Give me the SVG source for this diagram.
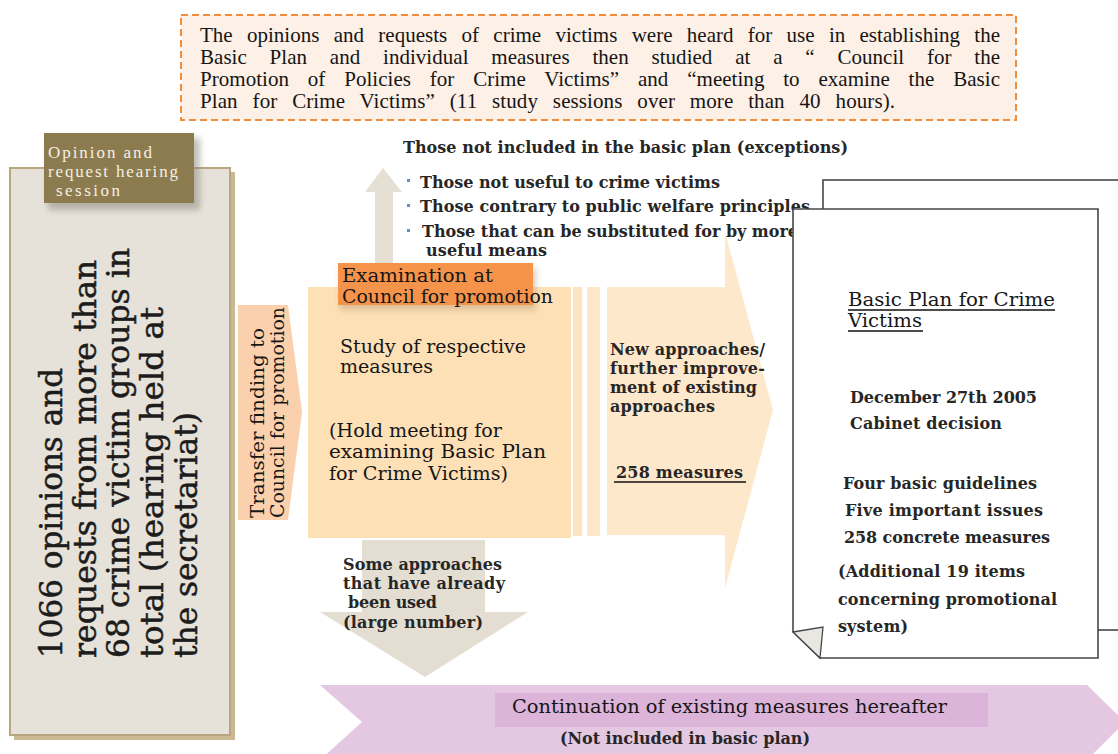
<svg xmlns="http://www.w3.org/2000/svg" width="1118" height="754" viewBox="0 0 1118 754">
  <defs>
    <style>
      .note{font-family:"Liberation Serif","Times New Roman",serif;font-size:21px;fill:#151515}
      .serif{font-family:"DejaVu Serif","Liberation Serif",serif;font-size:19px;fill:#161616}
      .bold{font-family:"DejaVu Serif","Liberation Serif",serif;font-weight:bold;font-size:16px;fill:#262626}
      .tab{font-family:"Liberation Serif","Times New Roman",serif;font-size:17px;fill:#f4f0e4}
      .big{font-family:"DejaVu Serif","Liberation Serif",serif;font-size:31px;fill:#1c1c1c;stroke:#1c1c1c;stroke-width:0.5}
      .page{fill:#ffffff;stroke:#474747;stroke-width:1.6}
      .rule{stroke:#111;stroke-width:1.3}
    </style>
    <filter id="blur" x="-20%" y="-30%" width="140%" height="160%">
      <feGaussianBlur stdDeviation="3"/>
    </filter>
  </defs>

  <!-- explanatory note -->
  <g id="note">
    <rect x="181" y="15" width="835" height="105" fill="#fdf0e6" stroke="#f08c3a" stroke-width="2" stroke-dasharray="7,4"/>
    <text class="note" x="200" y="42" word-spacing="9" textLength="800">The opinions and requests of crime victims were heard for use in establishing the</text>
    <text class="note" x="200" y="64" word-spacing="17.5" textLength="800">Basic Plan and individual measures then studied at a “ Council for the</text>
    <text class="note" x="200" y="86" word-spacing="13.5" textLength="800">Promotion of Policies for Crime Victims” and “meeting to examine the Basic</text>
    <text class="note" x="200" y="108" word-spacing="9.5" textLength="695">Plan for Crime Victims” (11 study sessions over more than 40 hours).</text>
  </g>

  <!-- hearing session panel -->
  <g id="hearing">
    <rect x="14" y="172" width="221" height="568" fill="#cbb993"/>
    <rect x="10" y="168" width="220" height="567" fill="#e7e2d9" stroke="#b8a67f" stroke-width="2"/>
    <g transform="rotate(-90)">
      <text class="big" x="-658" y="62" textLength="290" lengthAdjust="spacingAndGlyphs">1066 opinions and</text>
      <text class="big" x="-658" y="96" textLength="398" lengthAdjust="spacingAndGlyphs">requests from more than</text>
      <text class="big" x="-658" y="129" textLength="410" lengthAdjust="spacingAndGlyphs">68 crime victim groups in</text>
      <text class="big" x="-658" y="163" textLength="351" lengthAdjust="spacingAndGlyphs">total (hearing held at</text>
      <text class="big" x="-658" y="197" textLength="246" lengthAdjust="spacingAndGlyphs">the secretariat)</text>
    </g>
  </g>
  <g id="hearing-tab">
    <rect x="48" y="138" width="152" height="72" fill="#8f8a80" opacity="0.55" filter="url(#blur)"/>
    <rect x="44" y="133" width="150" height="70" fill="#8c7b4f"/>
    <text class="tab" x="48" y="158" textLength="104">Opinion and</text>
    <text class="tab" x="48" y="177" textLength="130">request hearing</text>
    <text class="tab" x="56" y="196" textLength="64">session</text>
  </g>

  <!-- transfer arrow -->
  <g id="transfer">
    <polygon points="238,305 288,305 302,412 288,520 238,520" fill="#fad0ad"/>
    <g transform="rotate(-90)">
      <text class="serif" x="-518" y="264" font-size="18" textLength="190" lengthAdjust="spacingAndGlyphs">Transfer finding to</text>
      <text class="serif" x="-518" y="284" font-size="18" textLength="211" lengthAdjust="spacingAndGlyphs">Council for promotion</text>
    </g>
  </g>

  <!-- connectors -->
  <g id="connectors">
    <!-- exceptions, upward -->
    <polygon points="375,264 375,192 365,192 383,168 402,192 393,192 393,264" fill="#e6dfd3"/>
    <!-- existing approaches, downward -->
    <polygon points="362,540 485,540 485,612 528,612 425,677 320,612 362,612" fill="#e4ddd2"/>
    <!-- adopted measures, to the plan -->
    <rect x="573" y="287" width="9" height="249" fill="#fde3c2"/>
    <rect x="587" y="287" width="13" height="249" fill="#fde6c9"/>
    <polygon points="607,287 725,287 725,232 773,410 725,588 725,535 607,535" fill="#fee8cc"/>
    <!-- continuation band -->
    <polygon points="320,685 1087,685 1125,722 1087,760 320,760 362,722" fill="#e4c7e1"/>
  </g>

  <!-- examination at the council -->
  <g id="examination">
    <rect x="308" y="287" width="263" height="251" fill="#fde0b6"/>
    <rect x="340" y="268" width="196" height="42" fill="#b89470" opacity="0.45" filter="url(#blur)"/>
    <rect x="338" y="263" width="195" height="42" fill="#f5934a"/>
    <text class="serif" x="342" y="282" textLength="151" lengthAdjust="spacingAndGlyphs">Examination at</text>
    <text class="serif" x="342" y="303" textLength="211" lengthAdjust="spacingAndGlyphs">Council for promotion</text>
    <text class="serif" x="340" y="353" textLength="186" lengthAdjust="spacingAndGlyphs">Study of respective</text>
    <text class="serif" x="340" y="373" textLength="93" lengthAdjust="spacingAndGlyphs">measures</text>
    <text class="serif" x="329" y="437" textLength="173" lengthAdjust="spacingAndGlyphs">(Hold meeting for</text>
    <text class="serif" x="329" y="458" textLength="217" lengthAdjust="spacingAndGlyphs">examining Basic Plan</text>
    <text class="serif" x="329" y="480" textLength="179" lengthAdjust="spacingAndGlyphs">for Crime Victims)</text>
  </g>

  <!-- exceptions list -->
  <g id="exceptions">
    <text class="bold" x="403" y="153" textLength="445">Those not included in the basic plan (exceptions)</text>
    <rect x="407" y="179" width="3" height="3" fill="#6a8cb8"/>
    <rect x="407" y="204" width="3" height="3" fill="#6a8cb8"/>
    <rect x="407" y="229" width="3" height="3" fill="#6a8cb8"/>
    <text class="bold" x="420" y="188" textLength="300">Those not useful to crime victims</text>
    <text class="bold" x="420" y="212" textLength="390">Those contrary to public welfare principles</text>
    <text class="bold" x="422" y="237" textLength="376">Those that can be substituted for by more</text>
    <text class="bold" x="426" y="256" textLength="121">useful means</text>
  </g>

  <!-- adopted measures -->
  <g id="new-approaches">
    <text class="bold" x="610" y="355" textLength="155">New approaches/</text>
    <text class="bold" x="610" y="374" textLength="155">further improve-</text>
    <text class="bold" x="610" y="393" textLength="147">ment of existing</text>
    <text class="bold" x="610" y="412" textLength="105">approaches</text>
    <text class="bold" x="616" y="478" textLength="127">258 measures</text>
    <line class="rule" x1="614" y1="482" x2="746" y2="482"/>
  </g>

  <!-- existing approaches -->
  <g id="existing">
    <text class="bold" x="343" y="570" textLength="159">Some approaches</text>
    <text class="bold" x="343" y="589" textLength="162">that have already</text>
    <text class="bold" x="348" y="608" textLength="89">been used</text>
    <text class="bold" x="343" y="628" textLength="140">(large number)</text>
  </g>

  <!-- basic plan document -->
  <g id="basic-plan">
    <rect class="page" x="823" y="180" width="320" height="450"/>
    <path class="page" d="M793,209 H1098 V658 H820 L793,632 Z"/>
    <polygon points="793,632 823,627 820,658" fill="#e9e7e1" stroke="#474747" stroke-width="1.3"/>
    <text class="serif" x="848" y="306" textLength="207" lengthAdjust="spacingAndGlyphs">Basic Plan for Crime</text>
    <line class="rule" x1="848" y1="310" x2="1055" y2="310"/>
    <text class="serif" x="848" y="327" textLength="74" lengthAdjust="spacingAndGlyphs">Victims</text>
    <line class="rule" x1="848" y1="331" x2="923" y2="331"/>
    <text class="bold" x="850" y="403" textLength="187">December 27th 2005</text>
    <text class="bold" x="850" y="429" textLength="152">Cabinet decision</text>
    <text class="bold" x="843" y="489" textLength="194">Four basic guidelines</text>
    <text class="bold" x="845" y="516" textLength="198">Five important issues</text>
    <text class="bold" x="844" y="543" textLength="206">258 concrete measures</text>
    <text class="bold" x="838" y="577" textLength="187">(Additional 19 items</text>
    <text class="bold" x="838" y="605" textLength="219">concerning promotional</text>
    <text class="bold" x="838" y="632" textLength="70">system)</text>
  </g>

  <!-- continuation of existing measures -->
  <g id="continuation">
    <rect x="495" y="693" width="493" height="34" fill="#dcb4d9"/>
    <text class="serif" x="512" y="713" textLength="435" lengthAdjust="spacingAndGlyphs">Continuation of existing measures hereafter</text>
    <text class="bold" x="560" y="744" textLength="250">(Not included in basic plan)</text>
  </g>
</svg>
